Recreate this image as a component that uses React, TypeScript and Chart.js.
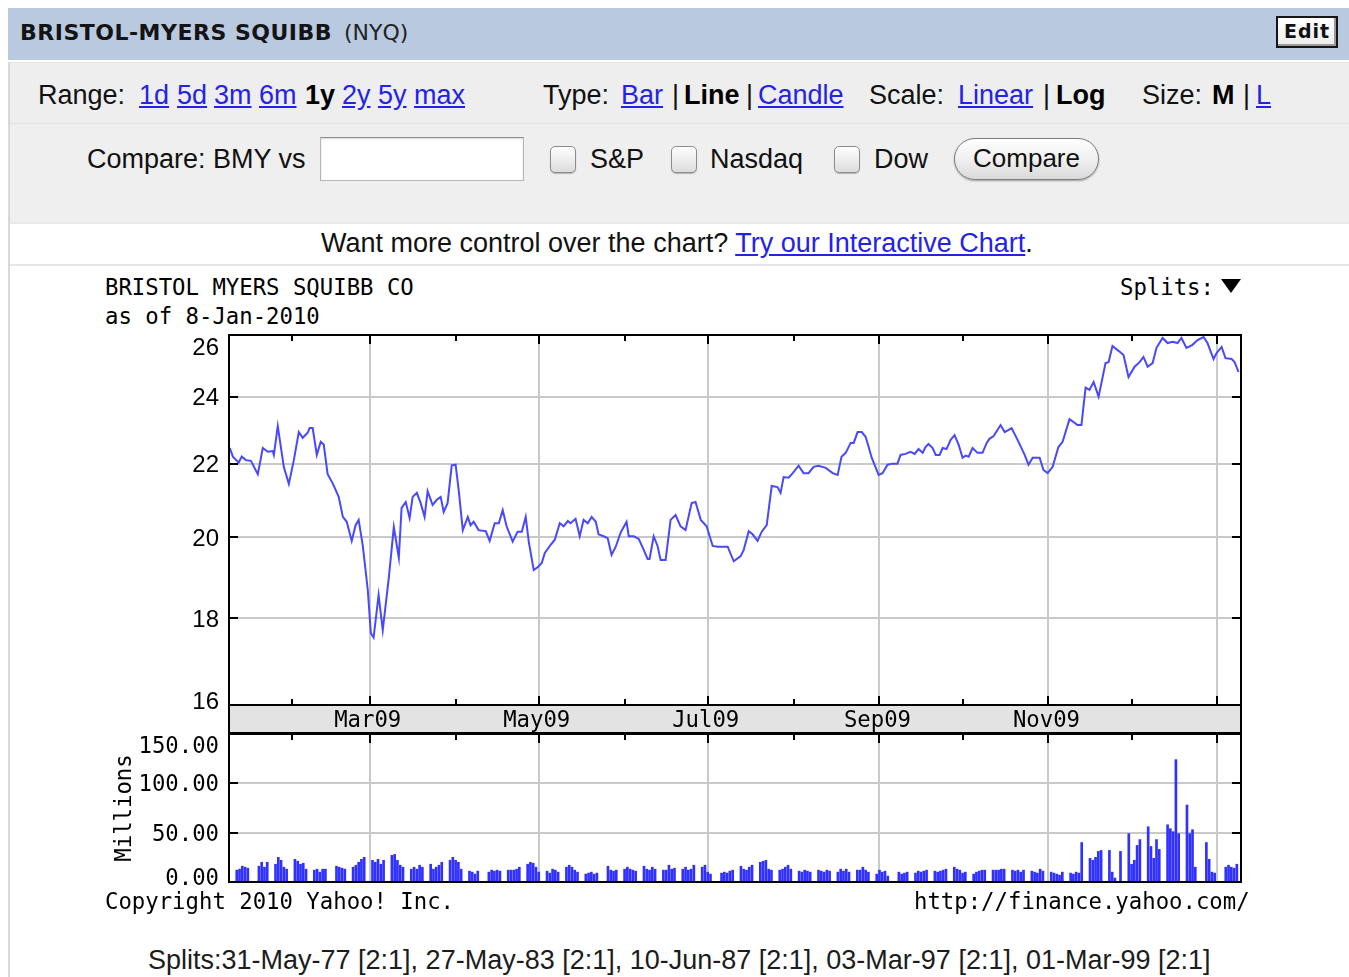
import React, { useEffect, useRef } from 'react';
import { Chart, registerables } from 'chart.js';

Chart.register(...registerables);

// ---------------- data ----------------
// x values are days counted from 1 Jan 2009 (0 = 1 Jan 2009)
const priceDays = [
  8.5, 9.6, 11.7, 12.8, 14.3, 16.1, 18.6, 20.4, 22.2, 24.0, 24.4, 25.8, 28.0, 29.8, 31.6, 33.4, 34.8, 36.6, 37.3, 38.4,
  39.9, 41.3, 42.4, 43.8, 45.6, 47.8, 49.3, 50.7, 52.5, 53.9, 55.0, 56.5, 58.3, 59.4, 60.4, 62.2, 63.7, 65.9, 67.7, 69.5,
  70.5, 72.0, 73.4, 74.5, 76.0, 77.4, 78.8, 79.9, 81.7, 83.2, 84.6, 85.7, 87.1, 88.6, 90.0, 91.1, 92.6, 94.4, 95.4, 96.5, 98.3,
  100.9, 102.3, 104.1, 105.6, 107.0, 108.4, 110.6, 112.4, 113.9, 115.3, 116.4, 118.2, 119.6, 121.1, 122.2, 124.3, 125.8, 127.6, 129.0, 130.5,
  131.5, 133.3, 134.8, 136.2, 137.7, 139.1, 140.6, 141.6, 143.4, 144.9, 146.3, 147.8, 149.6, 151.7, 152.5, 154.3, 156.1, 157.9, 159.3, 160.0,
  161.5, 162.9, 164.0, 165.8, 167.6, 169.4, 171.2, 173.0, 175.2, 176.6, 178.5, 180.6, 182.8, 184.6, 188.2, 190.4,
  192.9, 194.0, 195.8, 197.2, 199.0, 200.5, 202.3, 204.1, 206.2, 207.3, 208.4, 210.2, 211.7, 213.8, 215.6, 217.4, 219.2, 221.0, 223.6, 226.1,
  227.9, 229.3, 230.8, 232.6, 233.7, 235.1, 236.6, 238.0, 239.1, 240.2, 241.2, 242.7, 244.1, 245.9, 247.7, 249.5, 250.6, 252.4, 254.2, 255.7,
  257.1, 258.6, 259.6, 260.7, 262.2, 263.3, 264.7, 265.8, 267.2, 268.7, 270.1, 271.6, 273.0, 274.1, 275.2, 276.6, 278.4, 280.2, 281.7, 282.7, 284.2,
  286.7, 288.2, 290.7, 293.2, 295.4, 296.8, 298.3, 300.8, 302.2, 303.7, 305.5, 307.6, 309.1, 311.6, 314.5, 315.9, 317.4, 318.8, 320.3, 322.1,
  324.6, 325.7, 327.1, 329.3, 331.1, 332.9, 335.1, 336.9, 338.3, 339.8, 341.6, 343.0, 345.2, 347.0, 348.8, 350.6, 352.0, 353.8, 356.0, 357.8,
  360.0, 361.4, 363.6, 364.7, 366.5, 367.9, 370.1, 371.2, 372.6,
];
const priceValues = [
  22.45, 22.2, 22.03, 22.2, 22.1, 22.08, 21.7, 22.45, 22.34, 22.36, 22.25, 23.1, 21.9, 21.43, 22.1, 22.92, 22.75, 22.9, 23.04, 23.04,
  22.25, 22.63, 22.55, 21.7, 21.45, 21.07, 20.53, 20.4, 19.9, 20.31, 20.45, 19.77, 18.67, 17.65, 17.55, 18.55, 17.72, 18.98, 20.26, 19.47,
  20.77, 20.93, 20.5, 21.07, 21.18, 20.9, 20.53, 21.23, 20.85, 20.99, 21.07, 20.66, 20.9, 21.95, 21.97, 21.26, 20.18, 20.53, 20.31, 20.4, 20.18,
  20.15, 19.9, 20.36, 20.36, 20.71, 20.28, 19.88, 20.14, 20.14, 20.53, 19.88, 19.16, 19.23, 19.34, 19.59, 19.8, 19.93, 20.36, 20.28, 20.42,
  20.36, 20.48, 20.02, 20.45, 20.36, 20.53, 20.4, 20.07, 20.02, 19.97, 19.54, 19.75, 20.12, 20.4, 20.02, 20.02, 19.95, 19.67, 19.44, 19.44,
  20.02, 19.77, 19.41, 19.41, 20.45, 20.58, 20.28, 20.18, 20.9, 20.93, 20.45, 20.28, 19.77, 19.75, 19.75, 19.38,
  19.51, 19.67, 20.15, 20.07, 19.9, 20.14, 20.31, 21.37, 21.34, 21.18, 21.62, 21.6, 21.73, 21.94, 21.73, 21.73, 21.91, 21.94, 21.88, 21.73,
  21.68, 22.2, 22.31, 22.6, 22.6, 22.92, 22.92, 22.78, 22.48, 22.17, 21.97, 21.68, 21.73, 21.97, 22.0, 22.0, 22.25, 22.28, 22.34, 22.28,
  22.42, 22.31, 22.48, 22.57, 22.45, 22.25, 22.25, 22.45, 22.42, 22.69, 22.83, 22.54, 22.17, 22.23, 22.2, 22.45, 22.31, 22.31, 22.6, 22.72, 22.8,
  23.13, 22.92, 23.04, 22.63, 22.25, 21.97, 22.17, 22.17, 21.82, 21.73, 21.91, 22.48, 22.63, 23.31, 23.13, 23.13, 24.28, 24.21, 24.46, 24.0,
  25.07, 25.1, 25.63, 25.47, 25.33, 24.62, 24.95, 25.1, 25.27, 24.95, 25.07, 25.57, 25.9, 25.73, 25.77, 25.73, 25.9, 25.57, 25.67, 25.83,
  25.93, 25.73, 25.2, 25.4, 25.6, 25.23, 25.2, 25.1, 24.78,
];

// daily volume, millions of shares, one value per trading day of each month
const volJan09 = [17, 12, 13, 16, 15, 14, 16, 20, 15, 20, 18, 25, 22, 15, 13];
const volFeb09 = [23, 21, 18, 19, 13, 12, 13, 10, 13, 13, 16, 15, 14, 13, 15, 17, 20, 23, 25];
const volMar09 = [22, 20, 23, 18, 22, 27, 28, 22, 17, 15, 13, 15, 13, 17, 15, 18, 13, 15, 17, 20, 22, 25];
const volApr09 = [22, 20, 13, 11, 10, 8, 11, 10, 12, 11, 12, 11, 12, 12, 12, 13, 15, 18, 20, 19, 15];
const volMay09 = [10, 11, 9, 13, 12, 10, 15, 17, 15, 12, 10, 8, 9, 10, 8, 9, 16, 12, 11, 12];
const volJun09 = [13, 15, 13, 12, 11, 16, 13, 12, 15, 13, 12, 12, 17, 13, 14, 13, 15, 12, 13, 17, 15, 17];
const volJul09 = [10, 8, 9, 10, 9, 11, 12, 16, 13, 12, 15, 17, 20, 21, 22, 13, 12, 12, 13, 15, 17, 13];
const volAug09 = [11, 10, 12, 11, 10, 12, 11, 10, 12, 11, 10, 13, 11, 13, 10, 12, 12, 15, 12, 10, 8];
const volSep09 = [12, 10, 11, 6, 10, 8, 9, 10, 9, 11, 10, 11, 12, 11, 10, 11, 12, 13, 15, 13, 12];
const volOct09 = [9, 10, 8, 10, 11, 12, 12, 12, 12, 12, 13, 13, 12, 11, 12, 10, 12, 11, 10, 9, 13, 11];
const volNov09 = [10, 9, 8, 7, 10, 9, 8, 10, 9, 40, 24, 22, 25, 31, 32, 32, 10, 4, 31, 49];
const volDec09 = [18, 22, 37, 43, 56, 36, 24, 43, 33, 58, 54, 51, 124, 49, 78, 49, 53, 15, 40, 23, 10, 9];
const volJan10 = [15, 17, 15, 14, 18];

const marketHolidays = ['2009-01-19', '2009-02-16', '2009-04-10', '2009-05-25', '2009-07-03', '2009-09-07', '2009-11-26', '2009-12-25', '2010-01-01'];
const firstTradingDay = '2009-01-09';
const lastTradingDay = '2010-01-08';

const monthGridDays = [59, 120, 181, 243, 304, 365];
const monthGridLabels = ['Mar09', 'May09', 'Jul09', 'Sep09', 'Nov09', ''];
const minorTickDays = [31, 90, 151, 212, 273, 334];
const priceTicks = [16, 18, 20, 22, 24, 26];
const volumeTicks = [0, 50, 100, 150];
const X_MIN = 8.2;
const X_MAX = 373.5;
const PRICE_MIN = 16.08;
const PRICE_MAX = 26;
const VOL_MAX = 150;

// ---------------- helpers ----------------
const FONT_SANS = '"Liberation Sans", Arial, Helvetica, sans-serif';
const FONT_MONO = '"DejaVu Sans Mono", "Liberation Mono", monospace';
const FONT_VERD = '"DejaVu Sans", Verdana, sans-serif';
const LINK = '#2323e6';
const GRID = '#c9c9c9';
const BAND_H = 28;

function tradingDays(): number[] {
  const out: number[] = [];
  const base = Date.UTC(2009, 0, 1);
  const start = Date.parse(firstTradingDay + 'T00:00:00Z');
  const end = Date.parse(lastTradingDay + 'T00:00:00Z');
  for (let t = start; t <= end; t += 86400000) {
    const d = new Date(t);
    const wd = d.getUTCDay();
    if (wd === 0 || wd === 6) continue;
    if (marketHolidays.includes(d.toISOString().slice(0, 10))) continue;
    out.push(Math.round((t - base) / 86400000));
  }
  return out;
}

function seg(ctx: CanvasRenderingContext2D, x1: number, y1: number, x2: number, y2: number) {
  ctx.beginPath();
  ctx.moveTo(x1, y1);
  ctx.lineTo(x2, y2);
  ctx.stroke();
}

const pricePlugin = {
  id: 'priceFrame',
  beforeDraw(chart: any) {
    const { ctx, chartArea: a } = chart;
    ctx.save();
    ctx.fillStyle = '#e3e3e3';
    ctx.fillRect(a.left, a.bottom, a.right - a.left, BAND_H);
    ctx.restore();
  },
  afterDraw(chart: any) {
    const { ctx, chartArea: a } = chart;
    const xs = chart.scales.x;
    const ys = chart.scales.y;
    ctx.save();
    ctx.strokeStyle = '#000';
    ctx.lineWidth = 2;
    ctx.strokeRect(a.left, a.top, a.right - a.left, a.bottom - a.top);
    ctx.strokeRect(a.left, a.bottom, a.right - a.left, BAND_H);
    monthGridDays.forEach((d) => {
      const px = Math.round(xs.getPixelForValue(d));
      seg(ctx, px, a.top, px, a.top + 9);
      seg(ctx, px, a.bottom, px, a.bottom - 9);
    });
    minorTickDays.forEach((d) => {
      const px = Math.round(xs.getPixelForValue(d));
      seg(ctx, px, a.top, px, a.top + 6);
      seg(ctx, px, a.bottom, px, a.bottom - 6);
    });
    priceTicks.forEach((v) => {
      if (v <= PRICE_MIN || v >= PRICE_MAX) return;
      const py = Math.round(ys.getPixelForValue(v));
      seg(ctx, a.left, py, a.left + 9, py);
      seg(ctx, a.right, py, a.right - 9, py);
    });
    ctx.fillStyle = '#000';
    ctx.font = `24px ${FONT_SANS}`;
    ctx.textAlign = 'right';
    ctx.textBaseline = 'alphabetic';
    priceTicks.forEach((v) => {
      let py = ys.getPixelForValue(v);
      py = Math.max(a.top + 11, Math.min(a.bottom - 5, py));
      ctx.fillText(String(v), a.left - 10, py + 8.6);
    });
    ctx.font = `22.3px ${FONT_MONO}`;
    ctx.textAlign = 'center';
    monthGridDays.forEach((d, i) => {
      const lbl = monthGridLabels[i];
      if (!lbl) return;
      ctx.fillText(lbl, xs.getPixelForValue(d) - 2, a.bottom + BAND_H / 2 + 8);
    });
    ctx.restore();
  },
};

const volumePlugin = {
  id: 'volumeFrame',
  afterDraw(chart: any) {
    const { ctx, chartArea: a } = chart;
    const xs = chart.scales.x;
    const ys = chart.scales.y;
    ctx.save();
    ctx.strokeStyle = '#000';
    ctx.lineWidth = 2;
    ctx.strokeRect(a.left, a.top, a.right - a.left, a.bottom - a.top);
    monthGridDays.forEach((d) => {
      const px = Math.round(xs.getPixelForValue(d));
      seg(ctx, px, a.top, px, a.top + 9);
    });
    minorTickDays.forEach((d) => {
      const px = Math.round(xs.getPixelForValue(d));
      seg(ctx, px, a.top, px, a.top + 6);
    });
    volumeTicks.forEach((v) => {
      if (v <= 0 || v >= VOL_MAX) return;
      const py = Math.round(ys.getPixelForValue(v));
      seg(ctx, a.left, py, a.left + 9, py);
      seg(ctx, a.right, py, a.right - 9, py);
    });
    ctx.fillStyle = '#000';
    ctx.font = `22.3px ${FONT_MONO}`;
    ctx.textAlign = 'right';
    ctx.textBaseline = 'alphabetic';
    volumeTicks.forEach((v) => {
      let py = ys.getPixelForValue(v);
      py = Math.max(a.top + 11, Math.min(a.bottom - 5, py));
      ctx.fillText(v.toFixed(2), a.left - 10, py + 8);
    });
    ctx.translate(a.left - 98, (a.top + a.bottom) / 2);
    ctx.rotate(-Math.PI / 2);
    ctx.textAlign = 'center';
    ctx.fillText('Millions', 0, 0);
    ctx.restore();
  },
};

function P(x: number, y: number): React.CSSProperties {
  return { position: 'absolute', left: x, top: y };
}

function T(props: { x: number; cy: number; children: React.ReactNode; size?: number; font?: string; lh?: number; style?: React.CSSProperties }) {
  const { x, cy, children, size = 27, font = FONT_SANS, lh = 30, style } = props;
  return (
    <div style={{ ...P(x, cy - lh / 2), fontFamily: font, fontSize: size, lineHeight: lh + 'px', whiteSpace: 'nowrap', color: '#111', ...style }}>
      {children}
    </div>
  );
}

const linkStyle: React.CSSProperties = { color: LINK, textDecoration: 'underline' };
const boldStyle: React.CSSProperties = { fontWeight: 'bold', color: '#000' };

function Box(props: { x: number; y: number }) {
  return (
    <div
      style={{
        ...P(props.x, props.y),
        width: 26,
        height: 27,
        boxSizing: 'border-box',
        border: '1px solid #8c8c8c',
        borderRadius: 5,
        background: 'linear-gradient(#ffffff, #dcdcdc)',
        boxShadow: '0 1px 1px rgba(0,0,0,0.25)',
      }}
    />
  );
}

export default function App() {
  const priceRef = useRef<HTMLCanvasElement>(null);
  const volRef = useRef<HTMLCanvasElement>(null);

  useEffect(() => {
    document.documentElement.style.overflow = 'hidden';
    const days = tradingDays();
    const vols = [
      ...volJan09, ...volFeb09, ...volMar09, ...volApr09, ...volMay09, ...volJun09,
      ...volJul09, ...volAug09, ...volSep09, ...volOct09, ...volNov09, ...volDec09, ...volJan10,
    ];
    const n = Math.min(days.length, vols.length);
    const volData = [] as { x: number; y: number }[];
    for (let i = 0; i < n; i++) volData.push({ x: days[i], y: vols[i] });
    const priceData = priceDays.map((d, i) => ({ x: d, y: priceValues[i] }));

    const xGrid = { color: GRID, lineWidth: 2, drawTicks: false };

    const pc = new Chart(priceRef.current as HTMLCanvasElement, {
      type: 'line',
      data: {
        datasets: [
          {
            data: priceData as any,
            borderColor: '#4848ff',
            borderWidth: 2,
            pointRadius: 0,
            tension: 0,
            fill: false,
          },
        ],
      },
      options: {
        animation: false,
        responsive: false,
        maintainAspectRatio: false,
        devicePixelRatio: 1,
        events: [],
        layout: { padding: { top: 10, right: 19, bottom: 4, left: 0 } },
        plugins: { legend: { display: false }, tooltip: { enabled: false } },
        scales: {
          x: {
            type: 'linear',
            min: X_MIN,
            max: X_MAX,
            offset: false,
            afterBuildTicks: (s: any) => {
              s.ticks = monthGridDays.map((v) => ({ value: v }));
            },
            afterFit: (s: any) => {
              s.height = BAND_H;
            },
            ticks: { display: false },
            grid: xGrid,
            border: { display: false },
          },
          y: {
            type: 'logarithmic',
            min: PRICE_MIN,
            max: PRICE_MAX,
            afterBuildTicks: (s: any) => {
              s.ticks = priceTicks.filter((v) => v > PRICE_MIN && v < PRICE_MAX).map((v) => ({ value: v }));
            },
            afterFit: (s: any) => {
              s.width = 129;
            },
            ticks: { display: false },
            grid: xGrid,
            border: { display: false },
          },
        },
      } as any,
      plugins: [pricePlugin],
    });

    const vc = new Chart(volRef.current as HTMLCanvasElement, {
      type: 'bar',
      data: {
        datasets: [
          {
            data: volData as any,
            backgroundColor: '#3030ff',
            barThickness: 2,
            borderWidth: 0,
          },
        ],
      },
      options: {
        animation: false,
        responsive: false,
        maintainAspectRatio: false,
        devicePixelRatio: 1,
        events: [],
        layout: { padding: { top: 3, right: 19, bottom: 9, left: 0 } },
        plugins: { legend: { display: false }, tooltip: { enabled: false } },
        scales: {
          x: {
            type: 'linear',
            min: X_MIN,
            max: X_MAX,
            offset: false,
            afterBuildTicks: (s: any) => {
              s.ticks = monthGridDays.map((v) => ({ value: v }));
            },
            afterFit: (s: any) => {
              s.height = 0;
            },
            ticks: { display: false },
            grid: { ...xGrid, offset: false },
            border: { display: false },
          },
          y: {
            type: 'linear',
            min: 0,
            max: VOL_MAX,
            afterBuildTicks: (s: any) => {
              s.ticks = volumeTicks.filter((v) => v > 0 && v < VOL_MAX).map((v) => ({ value: v }));
            },
            afterFit: (s: any) => {
              s.width = 129;
            },
            ticks: { display: false },
            grid: xGrid,
            border: { display: false },
          },
        },
      } as any,
      plugins: [volumePlugin],
    });

    return () => {
      pc.destroy();
      vc.destroy();
    };
  }, []);

  const row1: [string, number, 'n' | 'l' | 'b'][] = [
    ['Range:', 38, 'n'], ['1d', 139, 'l'], ['5d', 177, 'l'], ['3m', 214, 'l'], ['6m', 259, 'l'], ['1y', 305, 'b'],
    ['2y', 342, 'l'], ['5y', 378, 'l'], ['max', 414, 'l'],
    ['Type:', 543, 'n'], ['Bar', 621, 'l'], ['|', 672, 'n'], ['Line', 684, 'b'], ['|', 746, 'n'], ['Candle', 758, 'l'],
    ['Scale:', 869, 'n'], ['Linear', 958, 'l'], ['|', 1043, 'n'], ['Log', 1056, 'b'],
    ['Size:', 1142, 'n'], ['M', 1212, 'b'], ['|', 1243, 'n'], ['L', 1256, 'l'],
  ];

  const W = 1349;

  // the wrapper is pinned to the page's top-left corner so coordinates below are page pixels
  return (
    <div style={{ position: 'fixed', left: 0, top: 0, width: 1349, height: 977, overflow: 'hidden', background: '#fff' }}>
      {/* header */}
      <div style={{ ...P(8, 8), width: W - 8, height: 52, background: '#b9c9df' }} />
      <T x={20} cy={33} size={22} lh={26} font={FONT_VERD} style={{ fontWeight: 'bold', letterSpacing: 0.5, color: '#141414' }}>
        BRISTOL-MYERS SQUIBB
      </T>
      <T x={344} cy={33} size={22} lh={26} font={FONT_VERD} style={{ color: '#222' }}>
        (NYQ)
      </T>
      <div
        style={{
          ...P(1276, 16),
          width: 62,
          height: 32,
          boxSizing: 'border-box',
          border: '2px solid #161616',
          background: 'linear-gradient(#ffffff, #ececec)',
          boxShadow: 'inset -2px -2px 0 #9a9a9a',
          fontFamily: FONT_VERD,
          fontWeight: 'bold',
          fontSize: 19,
          lineHeight: '27px',
          textAlign: 'center',
          letterSpacing: 1,
          color: '#111',
        }}
      >
        Edit
      </div>

      {/* control rows */}
      <div style={{ ...P(8, 62), width: W - 8, height: 60, background: '#eeeeee', borderTop: '1px solid #e4e4e4' }} />
      <div style={{ ...P(8, 123), width: W - 8, height: 99, background: '#efefef', borderTop: '1px solid #e2e2e2' }} />
      <div style={{ ...P(8, 62), width: 2, height: 915, background: '#d9d9d9' }} />
      <div style={{ ...P(10, 264), width: W - 10, height: 2, background: '#e6e6e6' }} />
      <div style={{ ...P(10, 222), width: W - 10, height: 2, background: '#e9e9e9' }} />

      {row1.map(([t, x, k], i) => (
        <T key={i} x={x} cy={94.5} style={k === 'l' ? linkStyle : k === 'b' ? boldStyle : undefined}>
          {t}
        </T>
      ))}

      <T x={87} cy={159}>Compare: BMY vs</T>
      <div
        style={{
          ...P(320, 137),
          width: 204,
          height: 44,
          boxSizing: 'border-box',
          background: '#fff',
          border: '1px solid #b5b5b5',
          borderTopColor: '#8e8e8e',
          boxShadow: 'inset 0 1px 2px rgba(0,0,0,0.15)',
        }}
      />
      <Box x={550} y={146} />
      <T x={590} cy={159}>S&amp;P</T>
      <Box x={671} y={146} />
      <T x={710} cy={159}>Nasdaq</T>
      <Box x={834} y={146} />
      <T x={874} cy={159}>Dow</T>
      <div
        style={{
          ...P(954, 138),
          width: 145,
          height: 42,
          boxSizing: 'border-box',
          border: '1px solid #7c7c7c',
          borderRadius: 21,
          background: 'linear-gradient(#ffffff, #f0f0f0 50%, #dadada)',
          boxShadow: '0 1px 2px rgba(0,0,0,0.35)',
          fontFamily: FONT_SANS,
          fontSize: 26,
          lineHeight: '39px',
          textAlign: 'center',
          color: '#111',
        }}
      >
        Compare
      </div>

      <T x={321} cy={243}>
        Want more control over the chart? <span style={linkStyle}>Try our Interactive Chart</span>.
      </T>

      {/* chart image texts */}
      <T x={105} cy={287} size={22.3} lh={26} font={FONT_MONO} style={{ color: '#000' }}>BRISTOL MYERS SQUIBB CO</T>
      <T x={105} cy={316} size={22.3} lh={26} font={FONT_MONO} style={{ color: '#000' }}>as of 8-Jan-2010</T>
      <T x={1120} cy={287} size={22.3} lh={26} font={FONT_MONO} style={{ color: '#000' }}>Splits:</T>
      <div
        style={{
          ...P(1221, 279),
          width: 0,
          height: 0,
          borderLeft: '10px solid transparent',
          borderRight: '10px solid transparent',
          borderTop: '14px solid #000',
        }}
      />

      <canvas ref={priceRef} width={1160} height={412} style={{ ...P(100, 325), width: 1160, height: 412 }} />
      <canvas ref={volRef} width={1160} height={160} style={{ ...P(100, 731), width: 1160, height: 160 }} />

      <T x={105} cy={901} size={22.3} lh={26} font={FONT_MONO} style={{ color: '#000' }}>Copyright 2010 Yahoo! Inc.</T>
      <T x={914} cy={901} size={22.3} lh={26} font={FONT_MONO} style={{ color: '#000' }}>http://finance.yahoo.com/</T>

      <T x={148} cy={960} style={{ color: '#1c1c1c' }}>
        Splits:31-May-77 [2:1], 27-May-83 [2:1], 10-Jun-87 [2:1], 03-Mar-97 [2:1], 01-Mar-99 [2:1]
      </T>
    </div>
  );
}
